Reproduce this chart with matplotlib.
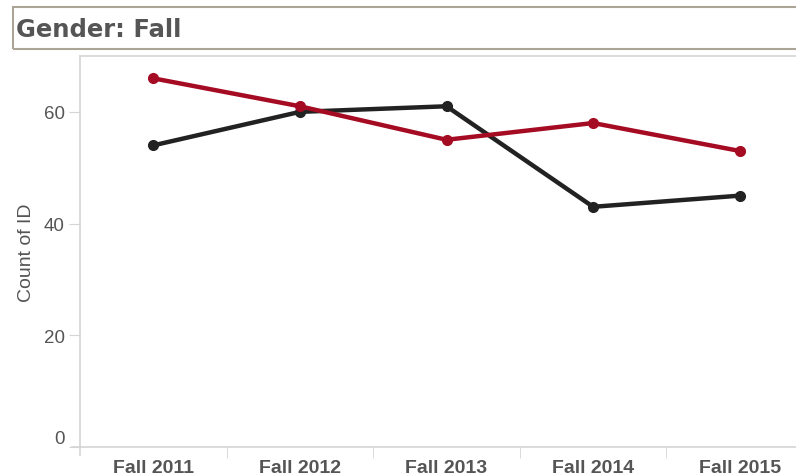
import matplotlib.pyplot as plt
from matplotlib.patches import Rectangle

terms = ["Fall 2011", "Fall 2012", "Fall 2013", "Fall 2014", "Fall 2015"]
female = [66, 61, 55, 58, 53]
male = [54, 60, 61, 43, 45]

plt.rcParams['font.family'] = ['Liberation Sans', 'DejaVu Sans']

fig = plt.figure(figsize=(7.96, 4.77), dpi=100)
ax = fig.add_axes([80 / 796, 29 / 477, 716 / 796, 391 / 477])

x = range(len(terms))
ax.plot(x, male, color="#222222", lw=3.2, marker="o", ms=7, solid_capstyle="round", zorder=3)
ax.plot(x, female, color="#a50c23", lw=3.2, marker="o", ms=7, solid_capstyle="round", zorder=3)

ax.set_xlim(-0.5, 4.5 - 17 / 146.5)
ax.set_ylim(0, 70)

grey = "#d4d4d4"
ax.spines["right"].set_visible(False)
for s in ["left", "bottom", "top"]:
    ax.spines[s].set_color(grey)
    ax.spines[s].set_linewidth(1.2)

ax.set_yticks([0, 20, 40, 60])
ax.set_yticklabels(["0", "20", "40", "60"])
ax.get_yticklabels()[0].set_va("bottom")
ax.tick_params(axis="y", length=8, color=grey, labelsize=13.5, labelcolor="#555555", pad=3)

ax.set_xticks(list(x))
ax.set_xticklabels(terms, fontweight="bold")
ax.set_xticks([0.5, 1.5, 2.5, 3.5], minor=True)
ax.tick_params(axis="x", which="major", length=0, labelsize=14, labelcolor="#555555", pad=9)
ax.tick_params(axis="x", which="minor", length=8, color=grey)

ax.set_ylabel("Count of ID", fontsize=14, color="#555555")
ax.yaxis.set_label_coords(-0.063, 0.5)

# extend left spine below the axis, Tableau style
fig.add_artist(plt.Line2D([80 / 796, 80 / 796], [21 / 477, 29 / 477], color=grey, lw=1.2))
fig.add_artist(plt.Line2D([72 / 796, 80 / 796], [29 / 477, 29 / 477], color=grey, lw=1.2))

# title box
fig.add_artist(Rectangle((13 / 796, 427 / 477), 790 / 796, 42 / 477, transform=fig.transFigure,
                         fill=False, edgecolor="#aaa596", lw=1.5))
fig.text(16 / 796, 447 / 477, "Gender: Fall", fontsize=17.5, fontweight="bold", color="#555555",
         family=["DejaVu Sans"], va="center", ha="left")

fig.savefig("out.png", dpi=100)
